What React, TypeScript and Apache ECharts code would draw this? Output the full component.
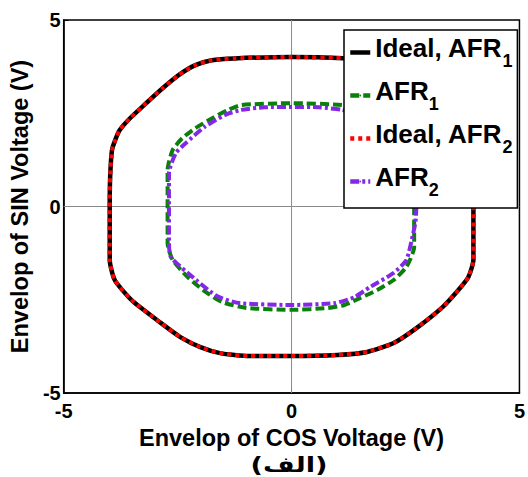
import React, { useEffect, useRef } from "react";
import * as echarts from "echarts";

// Ideal trajectory (shared by the AFR1 and AFR2 ideal curves)
const idealX = [3.99, 3.99, 3.88, 3.66, 3.32, 2.74, 2.24, 1.66, 1.01, 0, -0.93, -1.57, -2.0, -2.44, -2.87, -3.51, -3.88, -3.99, -3.99, -3.98, -3.94, -3.87, -3.77, -3.55, -3.19, -2.83, -2.47, -2.11, -1.75, -1.25, 0, 1.25, 1.75, 2.11, 2.47, 2.83, 3.19, 3.55, 3.77, 3.87, 3.94, 3.98, 3.99];
const idealY = [0, -1.43, -1.89, -2.24, -2.69, -3.26, -3.66, -3.9, -3.98, -4.01, -4.01, -3.93, -3.77, -3.5, -3.12, -2.51, -1.97, -1.43, 0, 0.8, 1.51, 1.78, 2.05, 2.36, 2.77, 3.17, 3.53, 3.79, 3.92, 3.97, 4.01, 3.97, 3.92, 3.79, 3.53, 3.17, 2.77, 2.36, 2.05, 1.78, 1.51, 0.8, 0];

const afr1X = [2.69, 2.69, 2.52, 2.24, 1.88, 1.51, 1.16, 0.8, 0, -0.99, -1.53, -1.94, -2.28, -2.61, -2.72, -2.72, -2.61, -2.4, -2.11, -1.75, -1.39, -1.11, 0, 1.11, 1.39, 1.75, 2.11, 2.4, 2.61, 2.69, 2.69];
const afr1Y = [0, -1.09, -1.62, -1.97, -2.24, -2.45, -2.64, -2.72, -2.77, -2.72, -2.56, -2.24, -1.89, -1.43, -0.98, 0.98, 1.51, 1.83, 2.1, 2.36, 2.59, 2.72, 2.77, 2.72, 2.59, 2.36, 2.1, 1.83, 1.51, 0.98, 0];

const afr2X = [2.74, 2.72, 2.67, 2.52, 2.24, 1.72, 1.38, 0.95, 0, -1.14, -1.64, -2.28, -2.65, -2.69, -2.69, -2.54, -2.33, -1.9, -1.47, -1.11, -0.6, 0, 0.6, 1.11, 1.47, 1.9, 2.33, 2.54, 2.72, 2.74];
const afr2Y = [0, -0.4, -0.71, -1.43, -1.78, -2.16, -2.43, -2.59, -2.64, -2.59, -2.4, -1.78, -1.35, -0.98, 0.89, 1.43, 1.69, 2.14, 2.45, 2.59, 2.66, 2.67, 2.66, 2.59, 2.45, 2.14, 1.69, 1.43, 0.89, 0];

const zeroHX = [-5, 5];
const zeroHY = [0, 0];
const zeroVX = [0, 0];
const zeroVY = [-5, 5];

const axisTicks = [-5, 0, 5];
const legendNames = ["Ideal, AFR1", "AFR1", "Ideal, AFR2", "AFR2"];
const legendLabels: Record<string, [string, string]> = {
  "Ideal, AFR1": ["Ideal, AFR", "1"],
  AFR1: ["AFR", "1"],
  "Ideal, AFR2": ["Ideal, AFR", "2"],
  AFR2: ["AFR", "2"],
};

const FONT = "'Liberation Sans', Arial, Helvetica, sans-serif";

const zip = (xs: number[], ys: number[]) => xs.map((x, i) => [x, ys[i]]);

export default function App() {
  const ref = useRef<HTMLDivElement>(null);
  useEffect(() => {
    if (!ref.current) return;
    const chart = echarts.init(ref.current, null, { renderer: "svg" });
    const axisCommon = {
      type: "value" as const,
      min: axisTicks[0],
      max: axisTicks[2],
      interval: 5,
      axisLine: { show: true, onZero: false, lineStyle: { color: "#000", width: 1.5 } },
      axisTick: { show: true, inside: true, length: 5, lineStyle: { color: "#000", width: 1 } },
      splitLine: { show: false },
      nameLocation: "middle" as const,
      nameTextStyle: { fontSize: 23.5, fontWeight: "bold" as const, color: "#000", fontFamily: FONT },
    };
    chart.setOption({
      animation: false,
      backgroundColor: "#fff",
      grid: { left: 61, right: 3, top: 20, bottom: 84, show: true, borderColor: "#000", borderWidth: 1.5, backgroundColor: "transparent" },
      xAxis: {
        ...axisCommon,
        name: "Envelop of COS Voltage (V)",
        nameGap: 28,
        axisLabel: { fontSize: 20, fontWeight: "bold", color: "#000", margin: 8, fontFamily: FONT },
      },
      yAxis: {
        ...axisCommon,
        name: "Envelop of SIN Voltage (V)",
        nameGap: 24,
        axisLabel: { fontSize: 20, fontWeight: "bold", color: "#000", margin: 3, fontFamily: FONT },
      },
      legend: {
        data: legendNames,
        orient: "vertical",
        left: 344,
        top: 30,
        z: 10,
        padding: [5, 5, 9, 4],
        itemGap: 8,
        itemWidth: 20,
        itemHeight: 2,
        itemTextGap: 2,
        lineStyle: { width: 4.5 },
        backgroundColor: "#fff",
        borderColor: "#000",
        borderWidth: 1.5,
        borderRadius: 0,
        formatter: (name: string) => {
          const l = legendLabels[name];
          return `{m|${l[0]}}{s|${l[1]}}`;
        },
        textStyle: {
          color: "#000",
          fontFamily: FONT,
          fontWeight: "bold",
          fontSize: 26,
          rich: {
            m: { fontSize: 26, fontWeight: "bold", fontFamily: FONT, color: "#000", lineHeight: 26, verticalAlign: "top" },
            s: { fontSize: 18, fontWeight: "bold", fontFamily: FONT, color: "#000", lineHeight: 35, verticalAlign: "bottom" },
          },
        },
      },
      graphic: [
        {
          type: "text",
          x: 289,
          y: 465,
          scaleX: 1.3,
          style: {
            text: "(الف)",
            fill: "#000",
            font: `bold 21px 'DejaVu Sans', ${FONT}`,
            textAlign: "center",
            textVerticalAlign: "middle",
          },
        },
      ],
      series: [
        {
          name: "zeroH",
          type: "line",
          data: zip(zeroHX, zeroHY),
          symbol: "none",
          silent: true,
          z: 1,
          lineStyle: { color: "#8a8a8a", width: 1 },
        },
        {
          name: "zeroV",
          type: "line",
          data: zip(zeroVX, zeroVY),
          symbol: "none",
          silent: true,
          z: 1,
          lineStyle: { color: "#8a8a8a", width: 1 },
        },
        {
          name: "Ideal, AFR1",
          type: "line",
          data: zip(idealX, idealY),
          symbol: "none",
          smooth: 0.2,
          z: 2,
          lineStyle: { color: "#000", width: 4.5 },
          itemStyle: { color: "#000" },
        },
        {
          name: "AFR1",
          type: "line",
          data: zip(afr1X, afr1Y),
          symbol: "none",
          smooth: 0.2,
          z: 3,
          lineStyle: { color: "#0a800a", width: 4, type: [9, 4] },
          itemStyle: { color: "#0a800a" },
        },
        {
          name: "Ideal, AFR2",
          type: "line",
          data: zip(idealX, idealY),
          symbol: "none",
          smooth: 0.2,
          z: 4,
          lineStyle: { color: "#ff0000", width: 4, type: [4, 4] },
          itemStyle: { color: "#ff0000" },
        },
        {
          name: "AFR2",
          type: "line",
          data: zip(afr2X, afr2Y),
          symbol: "none",
          smooth: 0.2,
          z: 5,
          lineStyle: { color: "#8228e6", width: 4, type: [9, 3, 3, 3] },
          itemStyle: { color: "#8228e6" },
        },
      ],
    });
    return () => chart.dispose();
  }, []);
  return (
    <div
      ref={ref}
      style={{ position: "fixed", left: 0, top: 0, width: 528, height: 477, background: "#fff" }}
    />
  );
}
